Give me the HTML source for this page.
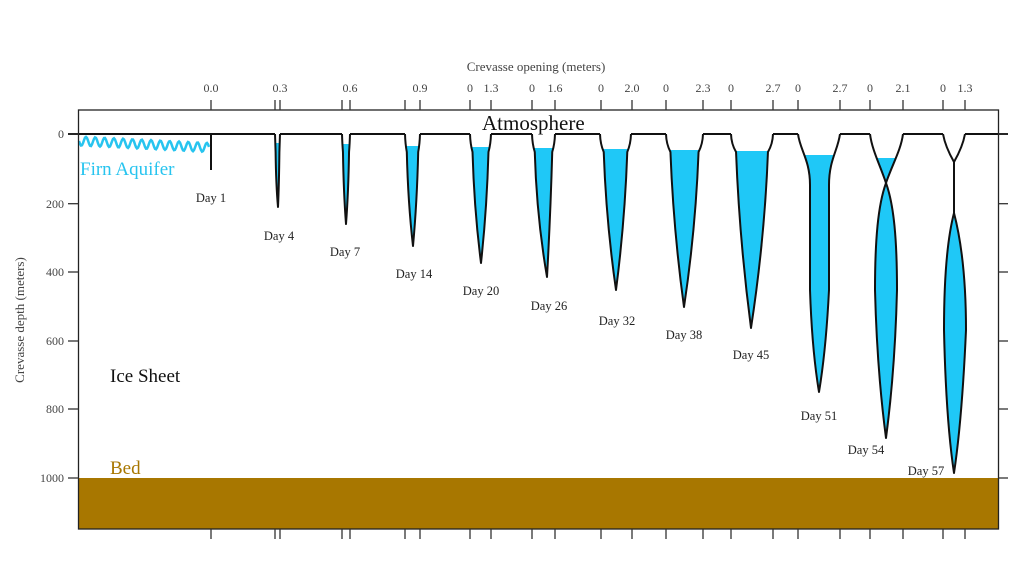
<!DOCTYPE html>
<html><head><meta charset="utf-8"><style>
html,body{margin:0;padding:0;background:#fff;width:1024px;height:576px;overflow:hidden}
svg text{font-family:"Liberation Serif",serif}
</style></head><body>
<svg id="s" width="1024" height="576" viewBox="0 0 1024 576" xmlns="http://www.w3.org/2000/svg">
<rect x="78.5" y="478" width="920" height="51" fill="#a87700"/>
<g id="cv"></g>
<path id="wave" fill="none" stroke="#27c4ef" stroke-width="2.5"/>
<g stroke="#222" stroke-width="1.3" fill="none">
<rect x="78.5" y="110" width="920" height="419"/>
</g>
<g id="ticks" stroke="#333" stroke-width="1.3"></g>
<g font-size="12" fill="#444" text-anchor="end">
<text x="64" y="138">0</text><text x="64" y="208">200</text><text x="64" y="276">400</text>
<text x="64" y="345">600</text><text x="64" y="413">800</text><text x="64" y="482">1000</text>
</g>
<g font-size="12" fill="#444" text-anchor="middle" id="tl"></g>
<text x="536" y="71" font-size="13" fill="#444" text-anchor="middle">Crevasse opening (meters)</text>
<text transform="translate(24,320) rotate(-90)" font-size="13" fill="#444" text-anchor="middle">Crevasse depth (meters)</text>
<text x="482" y="130" font-size="21" fill="#111">Atmosphere</text>
<text x="80" y="175" font-size="19" fill="#27c4ef">Firn Aquifer</text>
<text x="110" y="382" font-size="19" fill="#111">Ice Sheet</text>
<text x="110" y="474" font-size="19" fill="#a87700">Bed</text>
<g font-size="12.5" fill="#222" text-anchor="middle">
<text x="211" y="202">Day 1</text><text x="279" y="240">Day 4</text><text x="345" y="256">Day 7</text>
<text x="414" y="278">Day 14</text><text x="481" y="295">Day 20</text><text x="549" y="310">Day 26</text>
<text x="617" y="325">Day 32</text><text x="684" y="339">Day 38</text><text x="751" y="359">Day 45</text>
<text x="819" y="420">Day 51</text><text x="866" y="454">Day 54</text><text x="926" y="475">Day 57</text>
</g>
</svg>
<script>
var NS="http://www.w3.org/2000/svg";
function el(p,t,a,txt){var e=document.createElementNS(NS,t);for(var k in a)e.setAttribute(k,a[k]);if(txt!=null)e.textContent=txt;p.appendChild(e);return e;}
var cv=document.getElementById('cv'),tk=document.getElementById('ticks'),tl=document.getElementById('tl');
var Y0=134;
var d="";for(var x=79;x<=209;x+=1){var y=141+ (x-79)*0.05+4.5*Math.sin((x-79)/9.3*2*Math.PI);d+=(x==79?"M":"L")+x+" "+y.toFixed(1);}
document.getElementById('wave').setAttribute('d',d);
var C="#1fc8f7";
var V=[[275,280,278,207,143],[342,350,346,224,144],[405,420,413,246,146],[470,491,481,263,147],[532,555,547,277,148],[600,631,616,290,149],[666,703,684,307,150],[731,773,751,328,151]];
var outline=[];
V.forEach(function(v){var L=v[0],R=v[1],tx=v[2],ty=v[3],wy=v[4],w=R-L;
var l="M"+L+" "+Y0+" Q"+(L+0.3)+" "+(Y0+10)+" "+(L+0.12*w)+" "+(Y0+18)+" Q"+(L+0.2*w)+" "+(Y0+18+(ty-Y0)*0.45)+" "+tx+" "+ty;
var r=" Q"+(R-0.2*w)+" "+(Y0+18+(ty-Y0)*0.45)+" "+(R-0.12*w)+" "+(Y0+18)+" Q"+(R-0.3)+" "+(Y0+10)+" "+R+" "+Y0;
el(cv,'path',{d:l+r+"Z",fill:C});
el(cv,'rect',{x:L-1,y:Y0-2,width:w+2,height:wy-Y0+2,fill:"#fff"});
outline.push(l+r);
});
var p51="M798 134 C800 150 810 160 810 185 L810 290 Q812 350 819 392 Q826 350 829 290 L829 185 C829 160 838 150 840 134";
el(cv,'path',{d:p51+"Z",fill:C});el(cv,'rect',{x:797,y:132,width:45,height:23,fill:"#fff"});outline.push(p51);
var up54="M870 134 C872 150 880 165 886 183 C892 165 901 150 903 134Z";
var lens54="M886 183 C878 205 875 240 875 290 Q877 370 886 438 Q895 370 897 290 C897 240 894 205 886 183Z";
el(cv,'path',{d:up54,fill:C});el(cv,'path',{d:lens54,fill:C});
el(cv,'rect',{x:869,y:132,width:36,height:26,fill:"#fff"});
outline.push("M870 134 C872 150 880 165 886 183 C894 205 897 240 897 290 Q895 370 886 438 Q877 370 875 290 C875 240 878 205 886 183 C892 165 901 150 903 134");
var lens57="M954 213 C947 240 944 280 944 330 Q946 420 954 473 Q962 420 966 330 C966 280 961 240 954 213Z";
el(cv,'path',{d:lens57,fill:C});
outline.push("M943 134 C945 145 950 155 954 162 C958 155 963 145 965 134 M954 162 L954 213");outline.push(lens57);
outline.push("M68 134 L275 134 M280 134 L342 134 M350 134 L405 134 M420 134 L470 134 M491 134 L532 134 M555 134 L600 134 M631 134 L666 134 M703 134 L731 134 M773 134 L798 134 M840 134 L870 134 M903 134 L943 134 M965 134 L1008 134");
outline.push("M211 134 L211 170");
outline.forEach(function(p){el(cv,'path',{d:p,fill:"none",stroke:"#111","stroke-width":2,"stroke-linejoin":"round"});});
[134,203.7,272,341,409,478].forEach(function(y){el(tk,'line',{x1:68,y1:y,x2:78.5,y2:y});el(tk,'line',{x1:998.5,y1:y,x2:1008,y2:y});});
var T=[[211,"0.0"],[275,""],[280,"0.3"],[342,""],[350,"0.6"],[405,""],[420,"0.9"],[470,"0"],[491,"1.3"],[532,"0"],[555,"1.6"],[601,"0"],[632,"2.0"],[666,"0"],[703,"2.3"],[731,"0"],[773,"2.7"],[798,"0"],[840,"2.7"],[870,"0"],[903,"2.1"],[943,"0"],[965,"1.3"]];
T.forEach(function(t){el(tk,'line',{x1:t[0],y1:100,x2:t[0],y2:110});el(tk,'line',{x1:t[0],y1:529,x2:t[0],y2:539});
if(t[1])el(tl,'text',{x:t[0],y:92},t[1]);});
</script>
</body></html>
